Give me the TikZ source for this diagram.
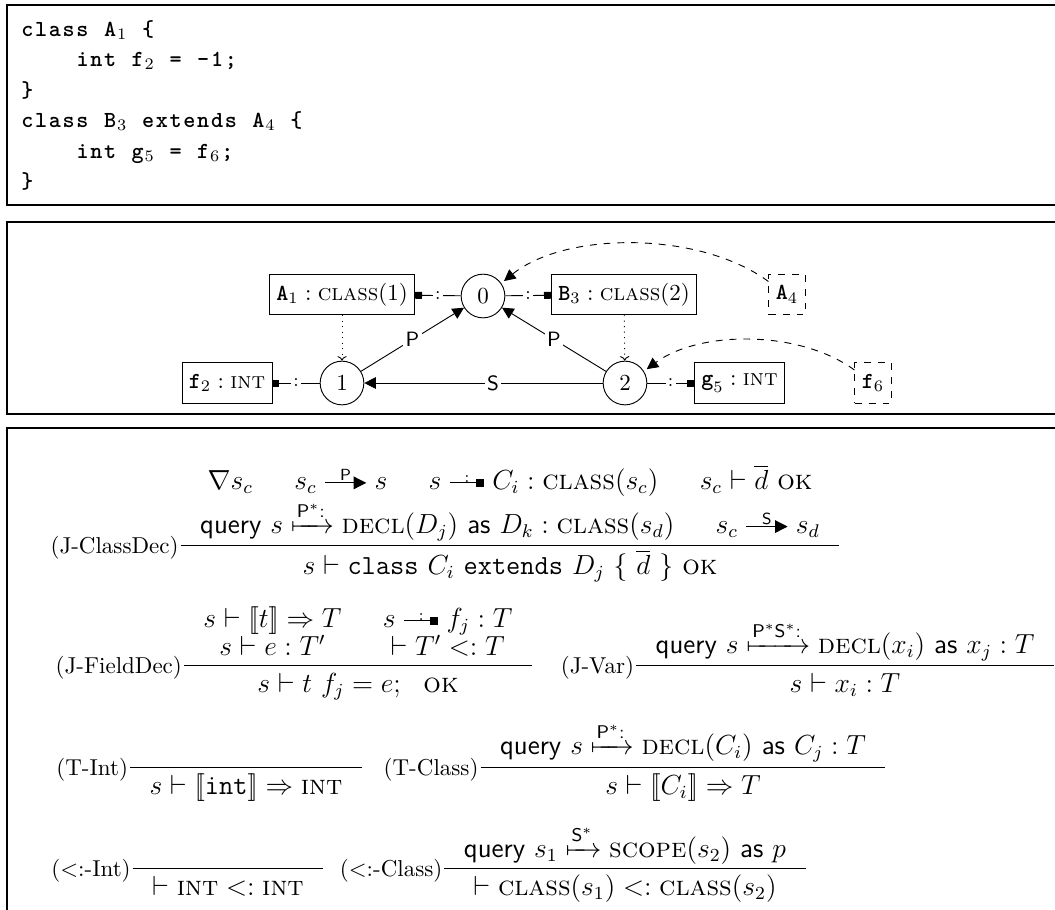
\documentclass[tikz,border=0pt]{standalone}
\usepackage{amsmath,amssymb,mathtools}
\usetikzlibrary{arrows.meta}

\makeatletter
\newcommand\codech[1]{\@tfor\cc@tok:=#1\do{\makebox[6pt][c]{\cc@tok}}}
\makeatother
\newcommand\cd[1]{{\ttfamily\bfseries\codech{#1}}}
\newcommand\tb[1]{\text{\ttfamily\bfseries #1}}
\newcommand\sembr[1]{[\![#1]\!]}

\newcommand\edgeArr[1]{\mathrel{\tikz[baseline=-3pt,x=1pt,y=1pt,line width=0.5pt]{\draw[-{Triangle[length=5.5pt,width=5.5pt]}] (0,0) -- (18,0) node[midway,above=0pt,inner sep=0.6pt,font=\sffamily\scriptsize] (ea) {#1};}}}
\newcommand\declArr{\mathrel{\tikz[baseline=-3pt,x=1pt,y=1pt,line width=0.5pt]{\draw[-{Square[length=3.6pt,width=3.6pt]}] (0,0) -- (15,0) node[midway,above=-0.5pt,inner sep=0.6pt,font=\scriptsize] (da) {:};}}}

\newsavebox\rbP \newsavebox\rbC \newlength\rbW
% #1 premises, #2 conclusion, #3 line overhang, #4 premise baseline to line, #5 line to conclusion baseline
\newcommand\rulebox[5]{%
 \sbox\rbP{#1}\sbox\rbC{#2}%
 \setlength\rbW{\wd\rbP}%
 \ifdim\wd\rbC>\rbW \setlength\rbW{\wd\rbC}\fi
 \addtolength\rbW{#3}\addtolength\rbW{#3}%
 \dp\rbP=0pt \ht\rbC=0pt
 \vtop{\vbox{\hbox to\rbW{\hss\usebox\rbP\hss}\kern#4\hrule height0.45pt depth0pt}\nointerlineskip\kern#5\hbox to\rbW{\hss\usebox\rbC\hss}}}
\newcommand\tworows[3]{\vbox{\baselineskip=#3\lineskiplimit=-\maxdimen\halign{\hfil##\hfil\cr#1\cr#2\cr}}}
\newcommand\fourcells[5]{\vbox{\baselineskip=#5\lineskiplimit=-\maxdimen\halign{\hfil##\hfil&\hskip 18pt\hfil##\hfil\cr#1&#2\cr#3&#4\cr}}}
\newcommand\psep{\hskip 18pt}

\tikzset{
 frame/.style={line width=0.6pt},
 codeline/.style={anchor=base west, inner sep=0pt},
 tbox/.style={draw, inner sep=3pt, minimum height=17.5pt},
 dbox/.style={tbox, dashed},
 scir/.style={draw, circle, minimum size=19pt, inner sep=0pt},
 edgeE/.style={-{Triangle[length=5pt,width=5pt]}},
 declE/.style={-{Square[length=3pt,width=3pt]}},
 refE/.style={dotted, -{To[length=2pt,width=4pt]}},
 importE/.style={dashed, -{Triangle[length=5pt,width=5pt]}, shorten >=1.5pt},
 elab/.style={fill=white, inner sep=1pt, font=\sffamily\small},
 clab/.style={fill=white, inner sep=1pt, font=\footnotesize},
 rulenode/.style={anchor=base, inner sep=0pt, font=\fontsize{12}{14.4}\selectfont},
 rlab/.style={anchor=base east, inner sep=0pt},
}

\begin{document}
\begin{tikzpicture}[x=0.4348pt,y=0.4348pt,line width=0.4pt]
\useasboundingbox (0,0) rectangle (1055,-909);
% frames
\draw[frame] (1080,-5) -- (7,-5) -- (7,-205) -- (1080,-205);
\draw[frame] (1080,-222) -- (7,-222) -- (7,-414) -- (1080,-414);
\draw[frame] (1080,-428) -- (7,-428) -- (7,-930);

% code
\node[codeline] (k1) at (20,-36) {\cd{class~A}$_1$\cd{~\{}};
\node[codeline] (k2) at (20,-66) {\cd{~~~~int~f}$_2$\cd{~=~-1;}};
\node[codeline] (k3) at (20,-97) {\cd{\}}};
\node[codeline] (k4) at (20,-127) {\cd{class~B}$_3$\cd{~extends~A}$_4$\cd{~\{}};
\node[codeline] (k5) at (20,-158) {\cd{~~~~int~g}$_5$\cd{~=~f}$_6$\cd{;}};
\node[codeline] (k6) at (20,-188) {\cd{\}}};

% scope graph
\node[scir] (c0) at (483,-296) {$0$};
\node[scir] (c1) at (342,-383) {$1$};
\node[scir] (c2) at (625,-383) {$2$};
\node[tbox] (A1) at (342,-294.5) {$\tb{A}_1 : \textsc{class}(1)$};
\node[tbox] (B3) at (624,-294.5) {$\tb{B}_3 : \textsc{class}(2)$};
\node[tbox] (f2) at (227,-383) {$\tb{f}_2 : \textsc{int}$};
\node[tbox] (g5) at (739.5,-383) {$\tb{g}_5 : \textsc{int}$};
\node[dbox] (A4) at (787,-294.5) {$\tb{A}_4$};
\node[dbox] (f6) at (873,-383) {$\tb{f}_6$};

\draw[declE] (c0) -- (A1) node[midway, clab] (d1) {:};
\draw[declE] (c0) -- (B3) node[midway, clab] (d2) {:};
\draw[declE] (c1) -- (f2) node[midway, clab] (d3) {:};
\draw[declE] (c2) -- (g5) node[midway, clab] (d4) {:};
\draw[edgeE] (c1) -- (c0) node[midway, elab] (e1) {P};
\draw[edgeE] (c2) -- (c0) node[midway, elab] (e2) {P};
\draw[edgeE] (c2) -- (c1) node[pos=0.46, elab] (e3) {S};
\draw[refE] (A1) -- (c1);
\draw[refE] (B3) -- (c2);
\draw[importE] (A4.145) .. controls (700,-231) and (566,-231) .. (c0.35);
\draw[importE] (f6.145) .. controls (800,-330) and (700,-330) .. (c2.32);

% ---------- rules ----------
\node[rulenode] (rJC) at (510,-546) {\rulebox{\tworows{$\nabla s_c \psep s_c \edgeArr{P} s \psep s \declArr C_i : \textsc{class}(s_c) \psep s_c \vdash \overline{d}\ \textsc{ok}$}{$\textsf{query}\ s \xmapsto{\textsf{P}^*\textsf{:}} \textsc{decl}(D_j)\ \textsf{as}\ D_k : \textsc{class}(s_d) \psep s_c \edgeArr{S} s_d$}{19pt}}{$s \vdash \mathtt{class}\ C_i\ \mathtt{extends}\ D_j\ \{\ \overline{d}\ \}\ \textsc{ok}$}{8.5pt}{5pt}{12.5pt}};
\node[rlab] (lJC) at ([xshift=-0.5pt,yshift=-3.3pt]rJC.base west) {(J-ClassDec)};

\node[rulenode] (rJF) at (358,-666) {\rulebox{\fourcells{$s \vdash \sembr{t} \Rightarrow T$}{$s \declArr f_j : T$}{$s \vdash e : T'$}{$\vdash T' <: T$}{12.2pt}}{$s \vdash t\ f_j = e;\ \ \textsc{ok}$}{8.5pt}{4pt}{11.3pt}};
\node[rlab] (lJF) at ([xshift=-0.5pt,yshift=-3.3pt]rJF.base west) {(J-FieldDec)};

\node[rulenode] (rJV) at (845,-666) {\rulebox{$\textsf{query}\ s \xmapsto{\textsf{P}^*\textsf{S}^*\textsf{:}} \textsc{decl}(x_i)\ \textsf{as}\ x_j : T$}{$s \vdash x_i : T$}{8.5pt}{5pt}{11.3pt}};
\node[rlab] (lJV) at ([xshift=-0.5pt,yshift=-3.3pt]rJV.base west) {(J-Var)};

\node[rulenode] (rTI) at (246,-768) {\rulebox{}{$s \vdash \sembr{\mathtt{int}} \Rightarrow \textsc{int}$}{8.5pt}{5pt}{11.3pt}};
\node[rlab] (lTI) at ([xshift=-0.5pt,yshift=-3.3pt]rTI.base west) {(T-Int)};

\node[rulenode] (rTC) at (683,-768) {\rulebox{$\textsf{query}\ s \xmapsto{\textsf{P}^*\textsf{:}} \textsc{decl}(C_i)\ \textsf{as}\ C_j : T$}{$s \vdash \sembr{C_i} \Rightarrow T$}{8.5pt}{5.5pt}{11.3pt}};
\node[rlab] (lTC) at ([xshift=-0.5pt,yshift=-3.3pt]rTC.base west) {(T-Class)};

\node[rulenode] (rSI) at (228,-869) {\rulebox{}{$\vdash \textsc{int} <: \textsc{int}$}{8.5pt}{5pt}{11.3pt}};
\node[rlab] (lSI) at ([xshift=-0.5pt,yshift=-3.3pt]rSI.base west) {($<$:-Int)};

\node[rulenode] (rSC) at (625,-869) {\rulebox{$\textsf{query}\ s_1 \xmapsto{\textsf{S}^*} \textsc{scope}(s_2)\ \textsf{as}\ p$}{$\vdash \textsc{class}(s_1) <: \textsc{class}(s_2)$}{8.5pt}{4.5pt}{11.3pt}};
\node[rlab] (lSC) at ([xshift=-0.5pt,yshift=-3.3pt]rSC.base west) {($<$:-Class)};
\end{tikzpicture}
\end{document}
